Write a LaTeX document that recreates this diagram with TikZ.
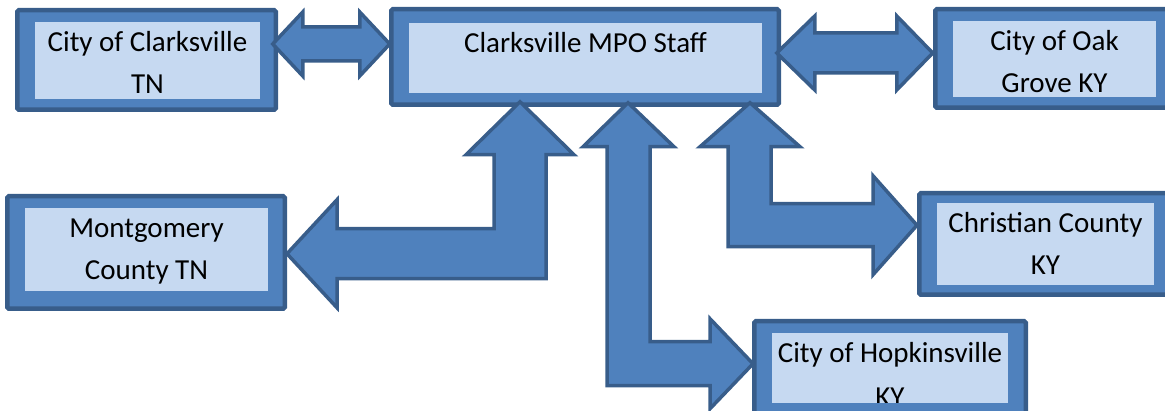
\documentclass[tikz,border=0pt]{standalone}
\usepackage{fontspec}
\setmainfont{Carlito}
\usetikzlibrary{calc}

\definecolor{boxline}{HTML}{385D8A}
\definecolor{boxfill}{HTML}{4F81BD}
\definecolor{boxlight}{HTML}{C6D9F1}

\begin{document}
\begin{tikzpicture}[x=1pt,y=-1pt,
		outerbox/.style={draw=boxline,fill=boxfill,line width=4.5pt,rounded corners=1.5pt,inner sep=0pt,outer sep=0pt},
		innerbox/.style={fill=boxlight,inner sep=0pt,outer sep=0pt},
		boxtext/.style={anchor=north,inner sep=0pt,align=center,font=\fontsize{29}{42}\selectfont},
		blockarrow/.style={draw=boxline,fill=boxfill,line width=3.5pt,line join=miter}]
		
		% page size, in pixels of the reference
		\useasboundingbox (0,0) rectangle (1165,411);
		\clip (0,0) rectangle (1165,411);
		
		% outer frames
		\node[outerbox,minimum width=258.5pt,minimum height=99.5pt] (clark) at (146.5,60) {};
		\node[outerbox,minimum width=387.5pt,minimum height=95.5pt] (mpo) at (585,57) {};
		\node[outerbox,minimum width=238.5pt,minimum height=98.5pt] (oak) at (1054.5,58.5) {};
		\node[outerbox,minimum width=277.5pt,minimum height=112.5pt] (mont) at (146,252.5) {};
		\node[outerbox,minimum width=252.5pt,minimum height=101.5pt] (christ) at (1045.5,244) {};
		\node[outerbox,minimum width=271.5pt,minimum height=93.5pt] (hopk) at (890,368) {};
		
		% light panels
		\node[innerbox,minimum width=225pt,minimum height=77pt] (clarkin) at (147.5,60.5) {};
		\node[innerbox,minimum width=353pt,minimum height=70pt] (mpoin) at (585.5,58) {};
		\node[innerbox,minimum width=203pt,minimum height=76pt] (oakin) at (1054.5,59) {};
		\node[innerbox,minimum width=243pt,minimum height=83pt] (montin) at (146.5,249.5) {};
		\node[innerbox,minimum width=217pt,minimum height=82pt] (christin) at (1045.5,244) {};
		\node[innerbox,minimum width=236pt,minimum height=70pt] (hopkin) at (890,368) {};
		
		% texts
		\node[boxtext] (clarktxt) at (clarkin.north) {\strut City of Clarksville\\TN};
		\node[boxtext] (mpotxt) at (mpoin.north) {\strut Clarksville MPO Staff};
		\node[boxtext] (oaktxt) at (oakin.north) {\strut City of Oak\\Grove KY};
		\node[boxtext] (monttxt) at (montin.north) {\strut Montgomery\\County TN};
		\node[boxtext] (christtxt) at (christin.north) {\strut Christian County\\KY};
		\begin{scope}
			\clip (hopkin.north west) rectangle (hopkin.south east);
			\node[boxtext] (hopktxt) at (hopkin.north) {\strut City of Hopkinsville\\[2pt]KY};
		\end{scope}
		
		% two-way arrows along the top row
		\draw[blockarrow] ($(clark.east)+(-3,-16)$) -- ++(30,-32) -- ++(0,15) -- ++(57,0) -- ++(0,-15)
			-- ++(30,32) -- ++(-30,32) -- ++(0,-15) -- ++(-57,0) -- ++(0,15) -- cycle;
		\draw[blockarrow] ($(mpo.east)+(-2,-4)$) -- ++(38,-37) -- ++(0,17) -- ++(82,0) -- ++(0,-17)
			-- ++(36,37) -- ++(-36,37) -- ++(0,-17) -- ++(-82,0) -- ++(0,17) -- cycle;
		
		% bent arrows from the staff box
		\draw[blockarrow] ($(mpo.south)+(-65,-3)$) -- ++(54,53) -- ++(-28,0) -- ++(0,124) -- ++(-209,0)
			-- ++(0,29) -- ++(-50,-54) -- ++(50,-54) -- ++(0,29) -- ++(157,0) -- ++(0,-74) -- ++(-28,0) -- cycle;
		\draw[blockarrow] ($(mpo.south)+(165,-2)$) -- ++(50,44) -- ++(-29,0) -- ++(0,57) -- ++(102,0)
			-- ++(0,-28) -- ++(44,49.5) -- ++(-44,49.5) -- ++(0,-28) -- ++(-145,0) -- ++(0,-100) -- ++(-28,0) -- cycle;
		\draw[blockarrow] ($(mpo.south)+(43,-2)$) -- ++(46,44) -- ++(-24,0) -- ++(0,195) -- ++(60,0)
			-- ++(0,-23) -- ++(43,45) -- ++(-43,45) -- ++(0,-23) -- ++(-103,0) -- ++(0,-239) -- ++(-24,0) -- cycle;
		
\end{tikzpicture}
\end{document}
